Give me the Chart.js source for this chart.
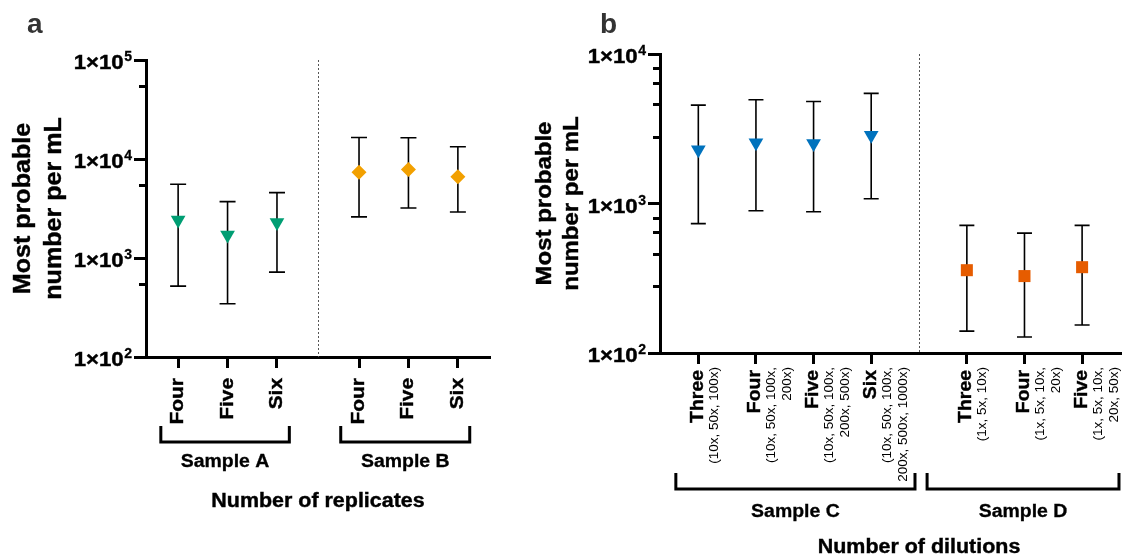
<!DOCTYPE html>
<html>
<head>
<meta charset="utf-8">
<script src="https://cdn.jsdelivr.net/npm/chart.js@4.4.1/dist/chart.umd.min.js"></script>
<style>
  html, body { margin: 0; padding: 0; background: #fff; }
  #wrap { position: relative; width: 1124px; height: 556px; }
  #wrap canvas { position: absolute; left: 0; top: 0; }
</style>
</head>
<body>
<div id="wrap">
  <canvas id="chartA" width="1124" height="556"></canvas>
  <canvas id="chartB" width="1124" height="556"></canvas>
</div>
<script>
// ---- panel a: number of replicates ----
const replicateLabels = ['Four', 'Five', 'Six'];
const sampleA_mpn = [2420, 1710, 2290];
const sampleA_low = [520, 345, 720];
const sampleA_high = [5550, 3710, 4570];
const sampleB_mpn = [7340, 7850, 6620];
const sampleB_low = [2600, 3200, 2920];
const sampleB_high = [16500, 16400, 13300];
const yTicksA = [100, 1000, 10000, 100000];
const yMinorA = [550, 5500, 55000];

// ---- panel b: number of dilutions ----
const dilutionLabelsC = ['Three', 'Four', 'Five', 'Six'];
const dilutionDetailC = [
  ['(10x, 50x, 100x)'],
  ['(10x, 50x, 100x,', '200x)'],
  ['(10x, 50x, 100x,', '200x, 500x)'],
  ['(10x, 50x, 100x,', '200x, 500x, 1000x)']
];
const sampleC_mpn = [2290, 2550, 2520, 2860];
const sampleC_low = [733, 895, 881, 1077];
const sampleC_high = [4550, 4940, 4810, 5450];
const dilutionLabelsD = ['Three', 'Four', 'Five'];
const dilutionDetailD = [
  ['(1x, 5x, 10x)'],
  ['(1x, 5x, 10x,', '20x)'],
  ['(1x, 5x, 10x,', '20x, 50x)']
];
const sampleD_mpn = [358, 327, 375];
const sampleD_low = [140, 128, 154];
const sampleD_high = [714, 634, 714];
const yTicksB = [100, 1000, 10000];
const yMinorB = [280, 460, 640, 800, 2800, 4600, 6400, 8000];

const FONT = '"Liberation Sans", Arial, Helvetica, sans-serif';
const font = (size, bold) => (bold ? 'bold ' : '') + size + 'px ' + FONT;

// category positions: groups laid side by side with a wider gap between them
const GAP = 1.66;
const positions = (n, start) => Array.from({ length: n }, (_, i) => start + i);
const posA = positions(3, 1), posB = positions(3, 3 + GAP);
const posC = positions(4, 1), posD = positions(3, 4 + GAP);

function drawText(ctx, str, x, y, o) {
  ctx.save();
  ctx.translate(x, y);
  if (o.rotate) ctx.rotate(o.rotate);
  if (o.stretch) ctx.scale(o.stretch, 1);
  ctx.font = o.font;
  ctx.fillStyle = o.color || '#000';
  ctx.textAlign = o.align || 'left';
  ctx.textBaseline = 'alphabetic';
  ctx.fillText(str, 0, 0);
  if (o.heavy) { // a touch heavier, like the original bold
    ctx.strokeStyle = o.color || '#000';
    ctx.lineWidth = o.heavy;
    ctx.strokeText(str, 0, 0);
  }
  ctx.restore();
}

// error bars, separator, tick labels, brackets and titles
function decor(cfg) {
  return {
    id: 'decor',
    beforeDatasetsDraw(chart) {
      const ctx = chart.ctx, xs = chart.scales.x, ys = chart.scales.y, area = chart.chartArea;
      ctx.save();
      ctx.strokeStyle = '#555';
      ctx.lineWidth = 1;
      ctx.setLineDash([2, 2]);
      const sx = Math.round(xs.getPixelForValue(cfg.separator)) + 0.5;
      ctx.beginPath(); ctx.moveTo(sx, area.top); ctx.lineTo(sx, area.bottom); ctx.stroke();
      ctx.setLineDash([]);
      ctx.strokeStyle = '#000';
      ctx.lineWidth = 1.6;
      chart.data.datasets.forEach(ds => {
        ds.data.forEach((p, i) => {
          const px = xs.getPixelForValue(p.x);
          const yl = ys.getPixelForValue(ds.errLow[i]);
          const yh = ys.getPixelForValue(ds.errHigh[i]);
          ctx.beginPath();
          ctx.moveTo(px, yl); ctx.lineTo(px, yh);
          ctx.moveTo(px - cfg.cap, yl); ctx.lineTo(px + cfg.cap, yl);
          ctx.moveTo(px - cfg.cap, yh); ctx.lineTo(px + cfg.cap, yh);
          ctx.stroke();
        });
      });
      ctx.restore();
    },
    afterDraw(chart) {
      const ctx = chart.ctx, xs = chart.scales.x, ys = chart.scales.y, area = chart.chartArea;
      ctx.save();
      // minor ticks
      ctx.strokeStyle = '#000';
      ctx.lineWidth = 3;
      cfg.yMinor.forEach(v => {
        const py = Math.round(ys.getPixelForValue(v)) + 0.5;
        ctx.beginPath(); ctx.moveTo(area.left, py); ctx.lineTo(area.left - 7, py); ctx.stroke();
      });
      // y tick labels 1x10^n
      cfg.yTicks.forEach(v => {
        const py = ys.getPixelForValue(v);
        const exp = String(Math.round(Math.log10(v)));
        ctx.font = font(14, true);
        const wSup = ctx.measureText(exp).width;
        const right = area.left - 14;
        drawText(ctx, exp, right - wSup, py + 1, { font: font(14, true), heavy: 0.3 });
        drawText(ctx, '1×10', right - wSup - 0.5, py + 9, { font: font(19.5, true), align: 'right', stretch: 1.14, heavy: 0.4 });
      });
      // x category labels (rotated)
      cfg.groups.forEach(g => {
        g.names.forEach((name, i) => {
          const px = xs.getPixelForValue(g.pos[i]);
          drawText(ctx, name, px + cfg.nameShift, cfg.labelTop, { font: font(cfg.nameSize, true), rotate: -Math.PI / 2, align: 'right', stretch: cfg.nameStretch, heavy: 0.4 });
          (g.details ? g.details[i] : []).forEach((line, j) => {
            drawText(ctx, line, px + 19.5 + j * 16, cfg.labelTop - 3, { font: font(13.5, false), rotate: -Math.PI / 2, align: 'right' });
          });
        });
        // bracket
        const x1 = xs.getPixelForValue(g.from), x2 = xs.getPixelForValue(g.to);
        ctx.lineWidth = 3;
        ctx.beginPath();
        ctx.moveTo(x1, cfg.bracketTop); ctx.lineTo(x1, cfg.bracketBar);
        ctx.lineTo(x2, cfg.bracketBar); ctx.lineTo(x2, cfg.bracketTop);
        ctx.stroke();
        drawText(ctx, g.label, (x1 + x2) / 2, cfg.groupBase, { font: font(18, true), align: 'center', stretch: 1.08, heavy: 0.3 });
      });
      // x axis title
      drawText(ctx, cfg.xTitle, xs.getPixelForValue(cfg.separator), cfg.xTitleBase, { font: font(19.5, true), align: 'center', stretch: 1.1, heavy: 0.4 });
      // y axis title
      const cy = (area.top + area.bottom) / 2;
      cfg.yTitle.forEach((line, j) => {
        drawText(ctx, line, cfg.yTitleX[j], cy, { font: font(cfg.yTitleSize, true), rotate: -Math.PI / 2, align: 'center', stretch: 1.09, heavy: 0.4 });
      });
      // panel letter
      drawText(ctx, cfg.letter, cfg.letterX, 33, { font: font(28, true), color: '#333' });
      ctx.restore();
    }
  };
}

function pointSet(xPos, mpn, low, high, style, color, radius, rotation) {
  return {
    data: mpn.map((v, i) => ({ x: xPos[i], y: v })),
    errLow: low, errHigh: high,
    pointStyle: style, pointRotation: rotation || 0, pointRadius: radius,
    pointBackgroundColor: color, backgroundColor: color,
    pointBorderWidth: 0, borderWidth: 0, showLine: false, clip: false
  };
}

function makeChart(id, cfg) {
  return new Chart(document.getElementById(id), {
    type: 'scatter',
    data: { datasets: cfg.datasets },
    options: {
      responsive: false,
      animation: false,
      events: [],
      layout: { autoPadding: false, padding: cfg.padding },
      plugins: { legend: { display: false }, tooltip: { enabled: false } },
      scales: {
        x: {
          type: 'linear', min: cfg.xMin, max: cfg.xMax,
          afterBuildTicks: s => { s.ticks = cfg.groups.flatMap(g => g.pos).map(v => ({ value: v })); },
          afterFit: s => { s.height = 11; },
          ticks: { display: false },
          grid: { drawOnChartArea: false, tickLength: 11, tickWidth: 3, tickColor: '#000' },
          border: { color: '#000', width: 3 }
        },
        y: {
          type: 'logarithmic', min: cfg.yTicks[0], max: cfg.yTicks[cfg.yTicks.length - 1],
          afterBuildTicks: s => { s.ticks = cfg.yTicks.map(v => ({ value: v })); },
          afterFit: s => { s.width = 12; },
          ticks: { display: false },
          grid: { drawOnChartArea: false, tickLength: 12, tickWidth: 3, tickColor: '#000' },
          border: { color: '#000', width: 3 }
        }
      }
    },
    plugins: [decor(cfg)]
  });
}

makeChart('chartA', {
  letter: 'a', letterX: 27,
  padding: { left: 134, top: 60, right: 634, bottom: 188 },
  xMin: 0.35, xMax: 7.31, separator: 3 + GAP / 2,
  yTicks: yTicksA, yMinor: yMinorA, cap: 8,
  labelTop: 378, nameSize: 19, nameStretch: 1.1, nameShift: 5,
  bracketTop: 426, bracketBar: 442, groupBase: 467, xTitleBase: 507,
  xTitle: 'Number of replicates',
  yTitle: ['Most probable', 'number per mL'], yTitleX: [30, 61], yTitleSize: 23,
  groups: [
    { names: replicateLabels, pos: posA, label: 'Sample A', from: 0.65, to: 3.25 },
    { names: replicateLabels, pos: posB, label: 'Sample B', from: 4.29, to: 6.9 }
  ],
  datasets: [
    pointSet(posA, sampleA_mpn, sampleA_low, sampleA_high, 'triangle', '#009E73', 8.5, 180),
    pointSet(posB, sampleB_mpn, sampleB_low, sampleB_high, 'rectRot', '#F2A000', 7.5)
  ]
});

makeChart('chartB', {
  letter: 'b', letterX: 600,
  padding: { left: 648, top: 54, right: 3, bottom: 192 },
  xMin: 0.335, xMax: 8.335, separator: 4 + GAP / 2,
  yTicks: yTicksB, yMinor: yMinorB, cap: 7.5,
  labelTop: 370, nameSize: 18.5, nameStretch: 1.05, nameShift: 4.5,
  bracketTop: 473, bracketBar: 489, groupBase: 517, xTitleBase: 553,
  xTitle: 'Number of dilutions',
  yTitle: ['Most probable', 'number per mL'], yTitleX: [550.5, 577.5], yTitleSize: 22,
  groups: [
    { names: dilutionLabelsC, details: dilutionDetailC, pos: posC, label: 'Sample C', from: 0.61, to: 4.76 },
    { names: dilutionLabelsD, details: dilutionDetailD, pos: posD, label: 'Sample D', from: 4.97, to: 8.3 }
  ],
  datasets: [
    pointSet(posC, sampleC_mpn, sampleC_low, sampleC_high, 'triangle', '#0072BD', 8.5, 180),
    pointSet(posD, sampleD_mpn, sampleD_low, sampleD_high, 'rect', '#E65C00', 8.5)
  ]
});
</script>
</body>
</html>
